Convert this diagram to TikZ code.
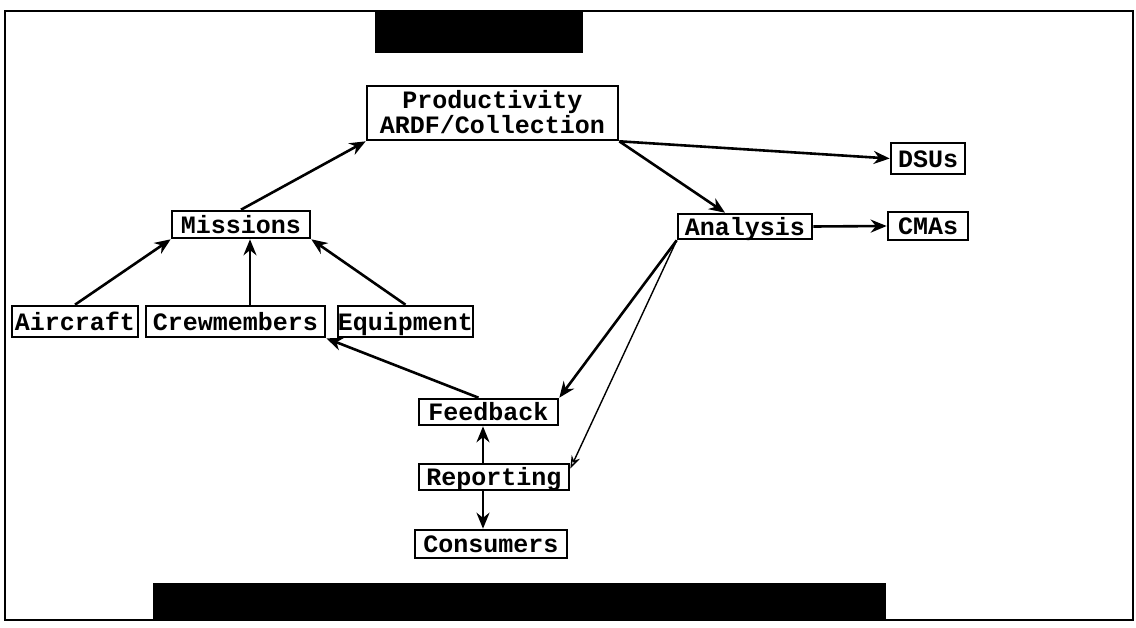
\documentclass[tikz,border=0pt]{standalone}
\usepackage{fontspec}
\setmonofont{Liberation Mono}
\usetikzlibrary{arrows.meta}
\begin{document}
\begin{tikzpicture}[x=1pt,y=-1pt,
  box/.style={draw,line width=2.6pt,rectangle,inner sep=0pt,align=center,
    text height=19pt,text depth=2pt,
    font=\ttfamily\bfseries\fontsize{25}{23}\selectfont},
  conn/.style={line width=2.6pt,-{Stealth[length=16pt,width=13pt]}},
  thin/.style={line width=1.4pt,-{Stealth[open,length=13pt,width=9pt]}}]
\useasboundingbox (0,0) rectangle (1136,627);
\draw[line width=2pt] (5,11) rectangle (1133,620);
\fill (375,11) rectangle (583,53);
\fill (153,583) rectangle (886,620);
\node[box,minimum width=251pt,minimum height=54pt,text height=42pt] (prod) at (492.5,113) {Productivity\\ARDF/Collection};
\node[box,minimum width=138pt,minimum height=27pt] (missions) at (241,224.5) {Missions};
\node[box,minimum width=126pt,minimum height=31pt] (aircraft) at (75,321.5) {Aircraft};
\node[box,minimum width=179pt,minimum height=31pt] (crew) at (235.5,321.5) {Crewmembers};
\node[box,minimum width=121pt,minimum height=31pt] (equip) at (405.5,321.5) {Equipment};
\node[box,minimum width=134pt,minimum height=25pt] (analysis) at (745,226.5) {Analysis};
\node[box,minimum width=74pt,minimum height=31pt] (dsus) at (928,158.5) {DSUs};
\node[box,minimum width=80pt,minimum height=28pt] (cmas) at (928,226) {CMAs};
\node[box,minimum width=139pt,minimum height=26pt] (feedback) at (488.5,412) {Feedback};
\node[box,minimum width=150pt,minimum height=26pt] (reporting) at (494,477) {Reporting};
\node[box,minimum width=152pt,minimum height=28pt] (consumers) at (491,544) {Consumers};
\draw[conn] (missions.north) -- (prod.south west);
\draw[conn] (aircraft.north) -- (missions.south west);
\draw[conn] ([xshift=14.5pt]crew.north) -- ([xshift=9pt]missions.south);
\draw[conn] (equip.north) -- (missions.south east);
\draw[conn] (prod.south east) -- (dsus.west);
\draw[conn] (prod.south east) -- ([xshift=-20pt]analysis.north);
\draw[conn] (analysis.east) -- (cmas.west);
\draw[conn] (analysis.south west) -- (feedback.north east);
\draw[thin] (analysis.south west) -- ([yshift=-6pt]reporting.north east);
\draw[conn] ([xshift=-10pt]feedback.north) -- (crew.south east);
\draw[conn] ([xshift=-11pt]reporting.north) -- ([xshift=-5.5pt]feedback.south);
\draw[conn] ([xshift=-11pt]reporting.south) -- ([xshift=-8pt]consumers.north);
\end{tikzpicture}
\end{document}
